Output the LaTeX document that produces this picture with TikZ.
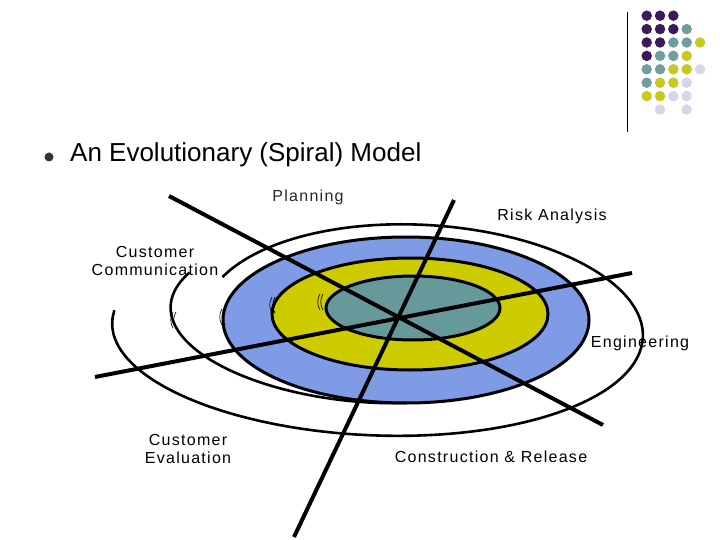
\documentclass[tikz,border=0pt]{standalone}
\usepackage{fontspec}
\setmainfont{Liberation Sans}
\newfontfamily\spacedfont[LetterSpace=8]{Liberation Sans}
\begin{document}
\begin{tikzpicture}[x=1pt,y=-1pt,
  ring/.style={draw=black,line width=3pt},
  spoke/.style={draw=black,line width=4pt},
  lbl/.style={font=\spacedfont\fontsize{16}{18}\selectfont,align=center,inner sep=0pt},
  dot/.style={circle,inner sep=0pt,minimum size=10.5pt}]
\useasboundingbox (0,0) rectangle (720,540);
\definecolor{cblue}{HTML}{7F9BE6}
\definecolor{cyel}{HTML}{CCCC00}
\definecolor{cteal}{HTML}{669999}
\definecolor{dP}{HTML}{3D1A5E}
\definecolor{dT}{HTML}{6E9E9E}
\definecolor{dY}{HTML}{C8C820}
\definecolor{dL}{HTML}{D6D6E8}
% decoration dots
\draw[line width=1pt] (627.5,12) -- (627.5,132);
\foreach \r/\row in {0/{P,P,P},1/{P,P,P,T},2/{P,P,T,T,Y},3/{P,T,T,Y},4/{T,T,Y,Y,L},5/{T,Y,Y,L},6/{Y,Y,L,L}}{
  \foreach \c [count=\i from 0] in \row {
    \node[dot,fill=d\c] (d\r\i) at ({646.7+13.33*\i},{15.7+13.4*\r}) {};
  }
}
\node[dot,fill=dL] (d71) at (660,109.5) {};
\node[dot,fill=dL] (d73) at (686.7,109.5) {};
% title
\node[circle,fill=black!80,inner sep=0pt,minimum size=9pt] (bul) at (49,157) {};
\node[anchor=west,inner sep=0pt,font=\fontsize{26}{30}\selectfont] (title) at (70,155) {An Evolutionary (Spiral) Model};
% rings
\path[ring,fill=cblue] (406,320) ellipse [x radius=183,y radius=83];
\path[ring,fill=cyel] (410,314) ellipse [x radius=138,y radius=56];
\path[ring,fill=cteal] (413,308) ellipse [x radius=87,y radius=32];
% spiral arcs
\draw[line width=2.6pt] plot[domain=150:-190,samples=80,smooth] ({400+(205+0.25*(150-\x))*cos(\x)},{329-(104+0.0118*(150-\x))*sin(\x)});
\draw[line width=2.6pt] plot[domain=150:270,samples=40,smooth] ({406+(250-0.558*(\x-150))*cos(\x)},{320-(95-0.1*(\x-150))*sin(\x)});
% small marks
\foreach \x/\y in {173/320,222/317,272/305,320/302}{
  \draw[line width=0.6pt] (\x,\y-8) .. controls (\x-3,\y-3) and (\x-3,\y+3) .. (\x,\y+8);
  \draw[line width=0.6pt] (\x+3,\y-8) .. controls (\x,\y-3) and (\x,\y+3) .. (\x+3,\y+8);
}
% spokes
\coordinate (a1) at (169,196); \coordinate (a2) at (603,425);
\coordinate (b1) at (454,200); \coordinate (b2) at (294,537);
\coordinate (c1) at (95,377); \coordinate (c2) at (632,273);
\draw[spoke] (a1) -- (a2);
\draw[spoke] (b1) -- (b2);
\draw[spoke] (c1) -- (c2);
% labels
\node[lbl,text=black!85] (plan) at (308,197) {Planning};
\node[lbl] (risk) at (552,216) {Risk Analysis};
\node[lbl] (cc) at (155,261) {Customer\\Communication};
\node[lbl] (eng) at (640,343) {Engineering};
\node[lbl] (ce) at (188,449) {Customer\\Evaluation};
\node[lbl] (cr) at (491,457) {Construction \& Release};
\end{tikzpicture}
\end{document}
